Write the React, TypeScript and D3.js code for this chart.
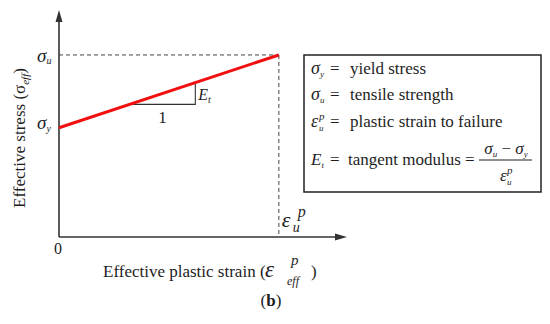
import React from "react";
import * as d3 from "d3";

// Conceptual bilinear hardening curve (normalised units)
const plasticStrain = [0, 1]; // 0 .. ε_u^p
const effStress = [0.6, 1.0]; // σ_y .. σ_u
const slopeStrain = [0.322, 0.62]; // slope triangle run
const axisMax = { x: 1.31, y: 1.236 };
const legendTerms = ["yield stress", "tensile strength", "plastic strain to failure", "tangent modulus ="];

const INK = "#1e1e1e";

function T(props: any) {
  const { style, ...rest } = props;
  return <text {...rest} style={{ fontFamily: "Liberation Serif", ...(style || {}) }} fill={INK} />;
}

export default function App() {
  const W = 550, H = 324;
  const x = d3.scaleLinear().domain([0, axisMax.x]).range([59, 347]);
  const y = d3.scaleLinear().domain([0, axisMax.y]).range([237, 12]);
  const stressAt = (s: number) => effStress[0] + (effStress[1] - effStress[0]) * s;

  const curve = d3.line<number>().x((d) => x(d)).y((_, i) => y(effStress[i]))(plasticStrain) || "";

  const x0 = x(0), y0 = y(0);
  const xEnd = x(axisMax.x), yTop = y(axisMax.y);
  const xu = x(plasticStrain[1]), yu = y(effStress[1]), yy = y(effStress[0]);

  const t0 = x(slopeStrain[0]), t1 = x(slopeStrain[1]);
  const ty0 = y(stressAt(slopeStrain[0])), ty1 = y(stressAt(slopeStrain[1]));

  const bx = 304, by = 55, bw = 237, bh = 137;

  return (
    <svg width={W} height={H} style={{ position: "absolute", left: 0, top: 0, background: "#fff" }}>
      {/* dashed guides */}
      <line x1={x0} y1={yu} x2={xu} y2={yu} stroke="#444" strokeWidth={1} strokeDasharray="4,3" />
      <line x1={xu} y1={yu} x2={xu} y2={y0} stroke="#444" strokeWidth={1} strokeDasharray="4,3" />

      {/* axes */}
      <line x1={x0} y1={y0} x2={x0} y2={yTop + 8} stroke="#333" strokeWidth={1.6} />
      <path d={`M${x0},${yTop - 2} L${x0 - 3.5},${yTop + 10} L${x0 + 3.5},${yTop + 10} Z`} fill="#333" />
      <line x1={x0} y1={y0} x2={xEnd - 8} y2={y0} stroke="#333" strokeWidth={1.6} />
      <path d={`M${xEnd},${y0} L${xEnd - 12},${y0 - 3.5} L${xEnd - 12},${y0 + 3.5} Z`} fill="#333" />

      {/* slope triangle */}
      <polyline points={`${t0},${ty0} ${t1},${ty0} ${t1},${ty1}`} fill="none" stroke="#333" strokeWidth={1.1} />
      <T x={(t0 + t1) / 2} y={ty0 + 19} fontSize={17} textAnchor="middle">1</T>
      <T x={t1 + 3} y={ty1 + 17} fontSize={16} fontStyle="italic">E<tspan fontSize={10} dy={3}>t</tspan></T>

      {/* red curve */}
      <path d={curve} fill="none" stroke="#f01010" strokeWidth={3} />

      {/* axis point labels */}
      <T x={37} y={yu + 7} fontSize={19} fontStyle="italic">σ<tspan fontSize={10} dy={2}>u</tspan></T>
      <T x={37} y={yy + 1} fontSize={19} fontStyle="italic">σ<tspan fontSize={10} dy={3}>y</tspan></T>
      <T x={x0 - 1} y={y0 + 17} fontSize={16} textAnchor="middle">0</T>
      <T x={xu + 3} y={y0 - 10} fontSize={22} fontStyle="italic">ε</T>
      <T x={xu + 14} y={y0 - 5} fontSize={14} fontStyle="italic">u</T>
      <T x={xu + 19} y={y0 - 20} fontSize={16} fontStyle="italic">p</T>

      {/* axis titles */}
      <T transform={`translate(25,138) rotate(-90)`} fontSize={17} textAnchor="middle">
        Effective stress (σ<tspan fontSize={11} fontStyle="italic" dy={4}>eff</tspan><tspan dy={-4}>)</tspan>
      </T>
      <T x={103} y={277} fontSize={17}>Effective plastic strain (</T>
      <T x={265} y={277} fontSize={23} fontStyle="italic">ε</T>
      <T x={291} y={265} fontSize={15} fontStyle="italic">p</T>
      <T x={287} y={285} fontSize={12} fontStyle="italic">eff</T>
      <T x={311} y={277} fontSize={17}>)</T>

      <T x={271} y={306} fontSize={17} textAnchor="middle">(<tspan fontWeight="bold">b</tspan>)</T>

      {/* definition box */}
      <rect x={bx} y={by} width={bw} height={bh} fill="#fff" stroke="#222" strokeWidth={1.5} />
      <T x={311} y={74} fontSize={18} fontStyle="italic">σ<tspan fontSize={9} dy={3}>y</tspan></T>
      <T x={311} y={100} fontSize={18} fontStyle="italic">σ<tspan fontSize={9} dy={3}>u</tspan></T>
      <T x={311} y={127} fontSize={18} fontStyle="italic">ε</T>
      <T x={319} y={131} fontSize={9} fontStyle="italic">u</T>
      <T x={319} y={120} fontSize={11} fontStyle="italic">p</T>
      <T x={311} y={165} fontSize={17} fontStyle="italic">E<tspan fontSize={9} dy={3}>t</tspan></T>

      {[74, 100, 127, 165].map((yy2, i) => (
        <g key={i}>
          <T x={330} y={yy2} fontSize={17}>=</T>
          <T x={i === 3 ? 348 : 350} y={yy2} fontSize={17}>{legendTerms[i]}</T>
        </g>
      ))}

      {/* fraction */}
      <T x={506} y={154} fontSize={17} textAnchor="middle" fontStyle="italic">
        σ<tspan fontSize={9} dy={3}>u</tspan><tspan fontStyle="normal" dy={-3}> − </tspan>σ<tspan fontSize={9} dy={3}>y</tspan>
      </T>
      <line x1={479} y1={160} x2={532} y2={160} stroke={INK} strokeWidth={1} />
      <T x={500} y={181} fontSize={17} fontStyle="italic">ε</T>
      <T x={507} y={185} fontSize={9} fontStyle="italic">u</T>
      <T x={507} y={174} fontSize={11} fontStyle="italic">p</T>
    </svg>
  );
}
